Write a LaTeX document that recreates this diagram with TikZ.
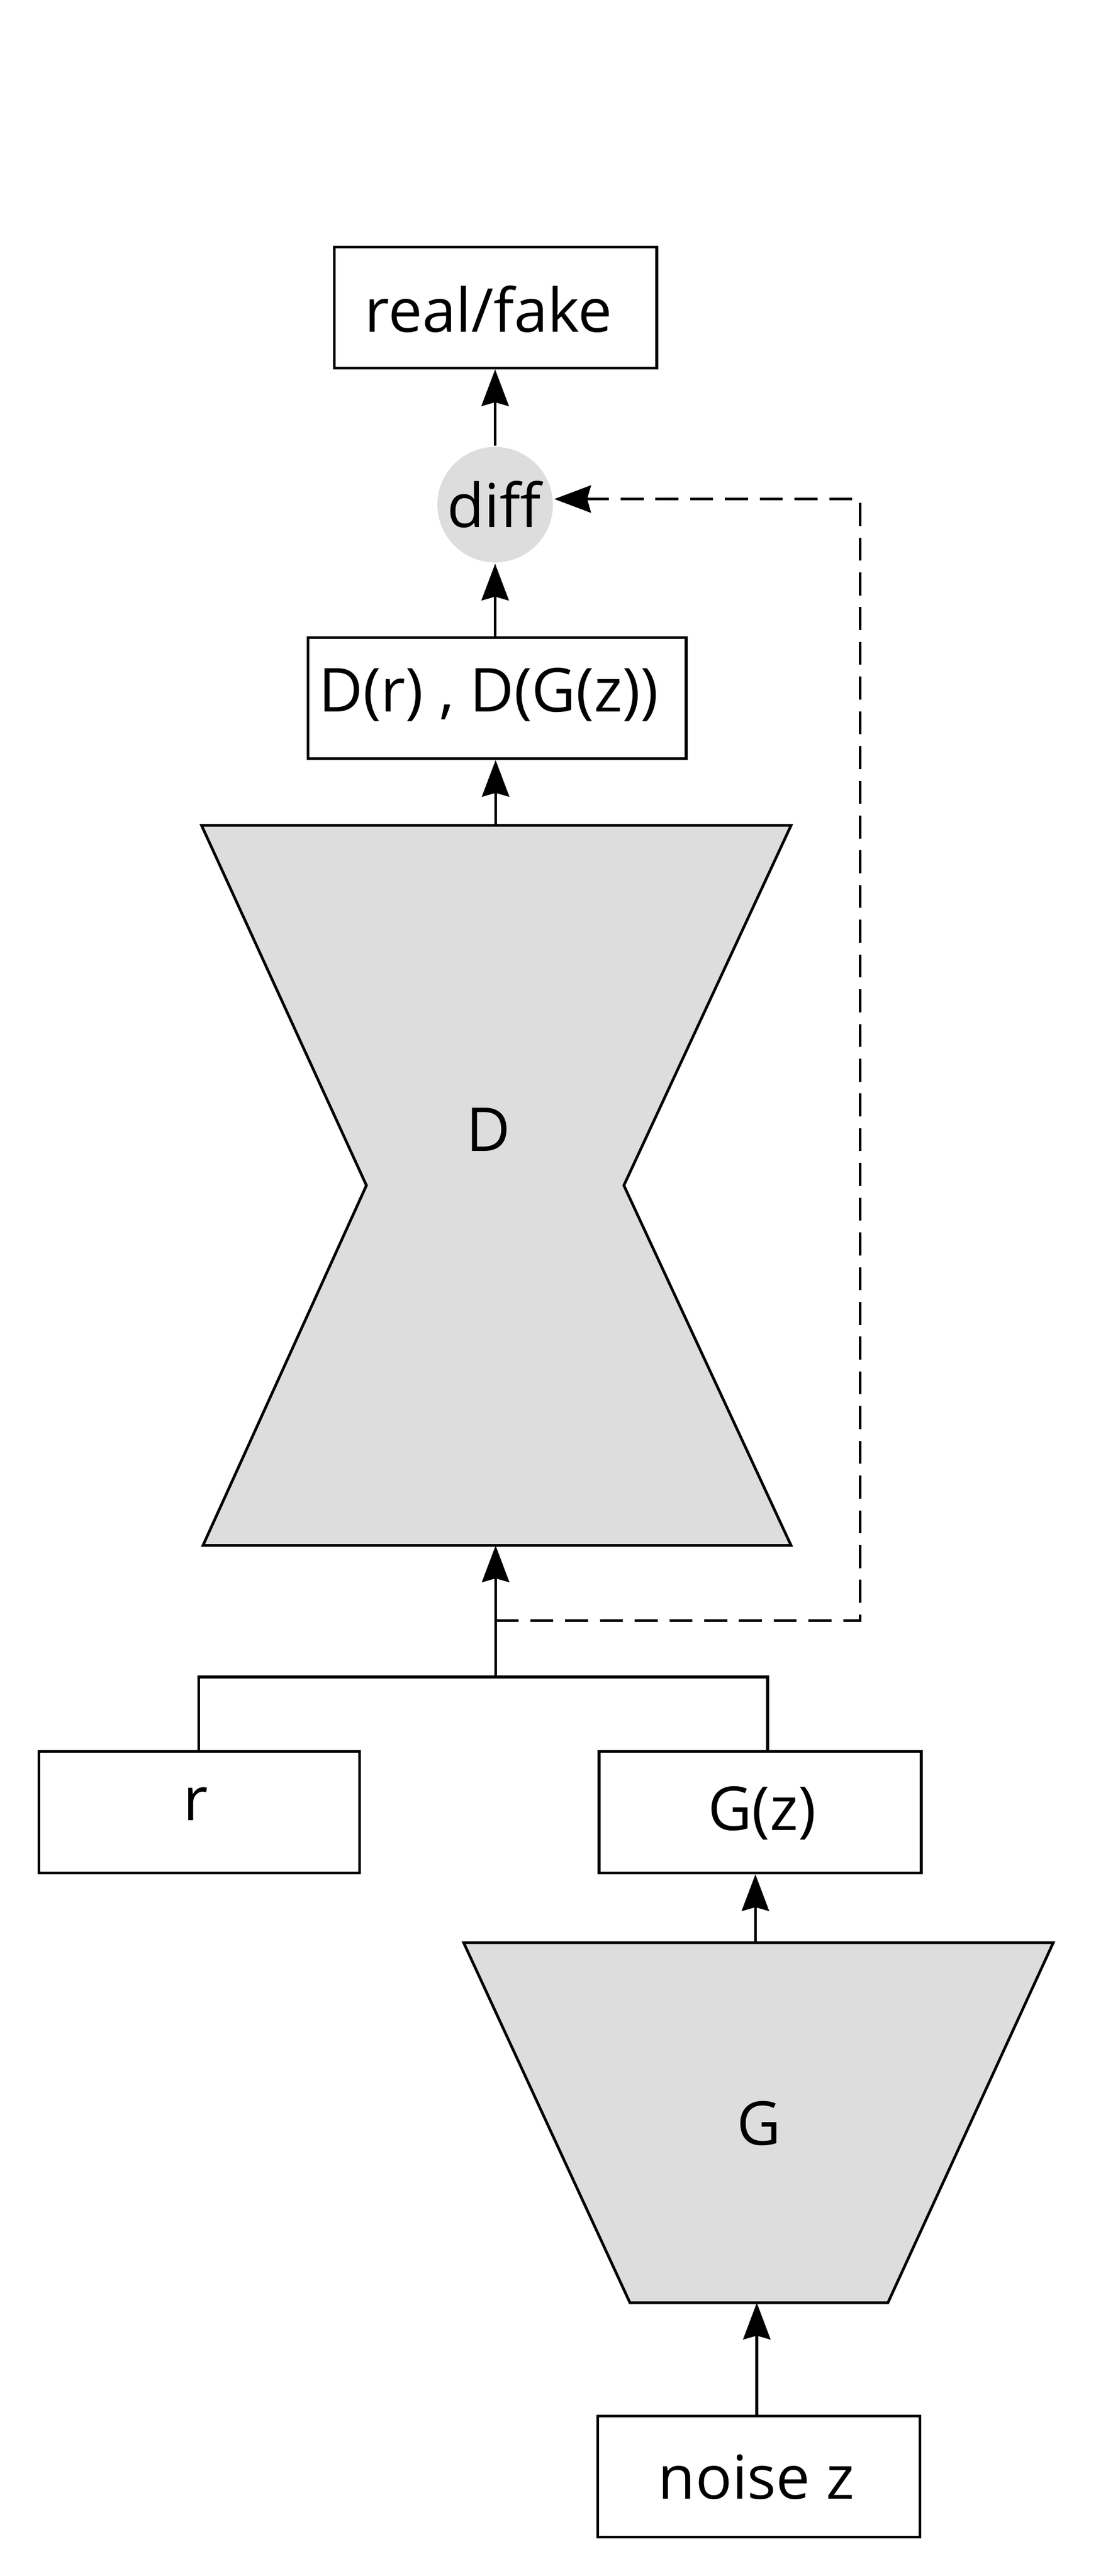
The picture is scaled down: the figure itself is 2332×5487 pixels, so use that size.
\documentclass[tikz,border=0pt]{standalone}
\usepackage{fontspec}
\setmainfont{Open Sans}
\usetikzlibrary{arrows.meta}
\definecolor{shapegray}{HTML}{DDDDDD}
\begin{document}
\begin{tikzpicture}[x=0.1pt,y=-0.1pt,
  line width=0.58pt,
  box/.style={draw, rectangle, inner sep=0pt, minimum width=68.6pt, minimum height=25.8pt},
  lbl/.style={inner sep=0pt, anchor=base, font=\fontsize{12.9}{15.5}\selectfont},
  arr/.style={-{Stealth[length=7.8pt,width=5.8pt,inset=0.8pt]}},
  dsh/.style={dash pattern=on 4.9pt off 2.5pt},
  blockfill/.style={fill=shapegray, draw=black}]
\useasboundingbox (0,0) rectangle (2332,5487);

% top boxes
\node[box] (rf) at (1055,655) {};
\node[lbl] (rft) at (1040,707) {real/fake};
\node[circle, fill=shapegray, minimum size=24.6pt, inner sep=0pt] (diff) at (1054,1075) {};
\node[lbl] (difft) at (1052,1123) {diff};
\node[box, minimum width=80.5pt] (db) at (1058,1487) {};
\node[lbl] (dbt) at (1040,1516) {D(r) , D(G(z))};

% D hourglass
\coordinate (Dtl) at (429,1758);
\coordinate (Dtr) at (1684,1758);
\coordinate (Dwr) at (1328,2525);
\coordinate (Dbr) at (1684,3292);
\coordinate (Dbl) at (432,3292);
\coordinate (Dwl) at (780,2525);
\draw[blockfill] (Dtl) -- (Dtr) -- (Dwr) -- (Dbr) -- (Dbl) -- (Dwl) -- cycle;
\coordinate (Dtop) at (1055,1758);
\coordinate (Dbot) at (1055,3292);
\node[lbl] (Dt) at (1040,2452) {D};

% inputs
\node[box, minimum width=68.3pt, minimum height=25.9pt] (r) at (424,3860) {};
\node[lbl] (rt) at (416,3878) {r};
\node[box, minimum height=25.9pt] (gz) at (1618,3860) {};
\node[lbl] (gzt) at (1622,3898) {G(z)};

% G trapezoid
\coordinate (Gtl) at (987,4138);
\coordinate (Gtr) at (2242,4138);
\coordinate (Gbr) at (1890,4905);
\coordinate (Gbl) at (1341,4905);
\draw[blockfill] (Gtl) -- (Gtr) -- (Gbr) -- (Gbl) -- cycle;
\coordinate (Gtop) at (1608,4138);
\coordinate (Gbot) at (1611,4905);
\node[lbl] (Gt) at (1616,4569) {G};

\node[box] (nz) at (1615,5275) {};
\node[lbl] (nzt) at (1610,5323) {noise z};

% junction
\coordinate (J) at (1055,3572);
\coordinate (Jl) at (423,3572);
\coordinate (Jr) at (1634,3572);
\coordinate (Jd) at (1055,3452);
\coordinate (Dr) at (1831,3452);

% connectors
\draw[arr] (diff.north) -- (diff.north |- rf.south);
\draw[arr] (db.north -| diff.south) -- (diff.south);
\draw[arr] (Dtop) -- (Dtop |- db.south);
\draw[arr] (J) -- (Dbot);
\draw (r.north -| Jl) -- (Jl) -- (Jr) -- (gz.north -| Jr);
\draw[arr] (Gtop) -- (Gtop |- gz.south);
\draw[arr] (nz.north -| Gbot) -- (Gbot);
\draw[arr, dsh] (Jd) -- (Dr) |- (diff.east |- 0,1063);
\end{tikzpicture}
\end{document}
